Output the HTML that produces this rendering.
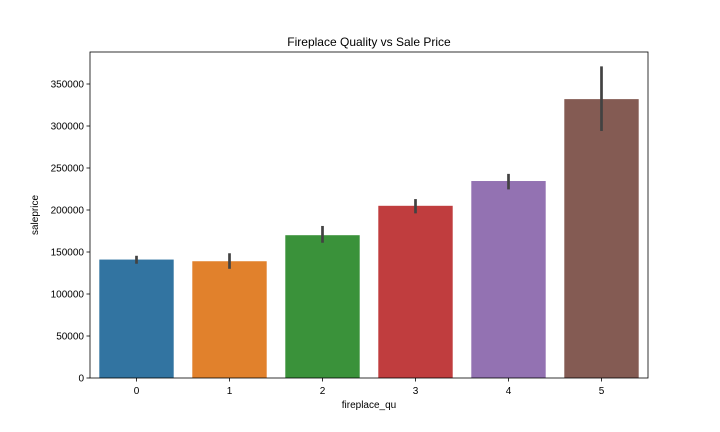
<!DOCTYPE html>
<html><head><meta charset="utf-8"><style>body{margin:0;background:#fff}svg{display:block;font-family:"Liberation Sans","DejaVu Sans",sans-serif}</style></head>
<body>
<svg id="chart" width="720" height="432"></svg>
<script>
const categories=["0","1","2","3","4","5"];
const values=[141000,139000,170000,205000,234500,332000];
const errLow=[136000,130000,161000,196000,224500,294000];
const errHigh=[145500,148500,181000,213000,243000,371000];
const yTicks=[0,50000,100000,150000,200000,250000,300000,350000];
const colors=["#3274a1","#e1812c","#3a923a","#c03d3e","#9372b2","#845b53"];
const L=90,R=648,T=52,B=378;
const ns="http://www.w3.org/2000/svg";
const svg=document.getElementById("chart");
function y(v){return B-v*(B-84)/350000;}
const step=(R-L)/categories.length;
function xc(i){return L+step*(i+0.5);}
function mk(t,a,txt){const e=document.createElementNS(ns,t);for(const k in a)e.setAttribute(k,a[k]);if(txt!==undefined)e.textContent=txt;svg.appendChild(e);return e;}
categories.forEach((c,i)=>{
 const w=step*0.8;
 const r=mk("rect",{x:xc(i)-w/2,y:y(values[i]),width:w,height:B-y(values[i]),fill:colors[i]});
 
 
 const l=mk("line",{x1:xc(i),x2:xc(i),y1:y(errLow[i]),y2:y(errHigh[i]),stroke:"#424242","stroke-width":2.7});
 
 
 mk("line",{x1:xc(i),x2:xc(i),y1:B,y2:B+3.5,stroke:"#000","stroke-width":0.8});
 const t=mk("text",{x:xc(i),y:B+16,"font-size":10,"text-anchor":"middle"},c);
 
 
});
yTicks.forEach(v=>{
 mk("line",{x1:L-3.5,x2:L,y1:y(v),y2:y(v),stroke:"#000","stroke-width":0.8});
 const t=mk("text",{x:L-6,y:y(v)+3.5,"font-size":10,"text-anchor":"end"},String(v));
 
 
});
const f=mk("rect",{x:L,y:T,width:R-L,height:B-T,fill:"none",stroke:"#000","stroke-width":0.8});


const ti=mk("text",{x:(L+R)/2,y:T-6,"font-size":12,"text-anchor":"middle"},"Fireplace Quality vs Sale Price");


const xl=mk("text",{x:(L+R)/2,y:408,"font-size":10,"text-anchor":"middle"},"fireplace_qu");


const yl=mk("text",{x:38,y:(T+B)/2,"font-size":10,"text-anchor":"middle",transform:"rotate(-90 38 "+((T+B)/2)+")"},"saleprice");


</script>
</body></html>
